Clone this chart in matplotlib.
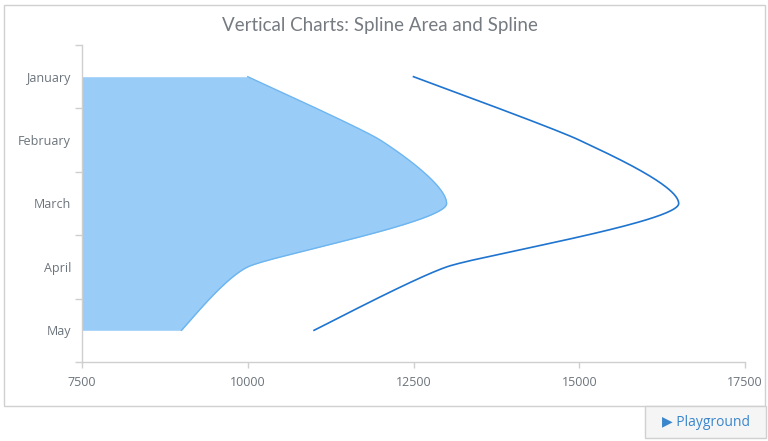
import numpy as np
import matplotlib.pyplot as plt
from matplotlib.patches import Rectangle

# data
months = ['January', 'February', 'March', 'April', 'May']
area_values = [10000, 12000, 13000, 10000, 9000]
line_values = [12500, 15000, 16500, 13000, 11000]
x_ticks = [7500, 10000, 12500, 15000, 17500]

W, H = 768, 441
fig = plt.figure(figsize=(W / 100, H / 100), dpi=100)

# plot area in pixels
left, right, top, bottom = 82, 745, 45, 362
ax = fig.add_axes([left / W, 1 - bottom / H, (right - left) / W, (bottom - top) / H])
xmin, xmax = 7500, 17500
ax.set_xlim(xmin, xmax)
ax.set_ylim(4.5, -0.5)

px_per_val = (right - left) / (xmax - xmin)
px_per_band = (bottom - top) / 5


def spline(values, arm=11.0, n=60):
    # bezier spline through the points in pixel space, short control arms
    P = np.column_stack([(np.array(values) - xmin) * px_per_val,
                         np.arange(len(values)) * px_per_band])
    m = len(P)
    T = []
    for i in range(m):
        i1 = max(i - 1, 0)
        i2 = min(i + 1, m - 1)
        t = (P[i2] - P[i1]) / arm
        if 0 < i < m - 1 and (values[i] - values[i1]) * (values[i2] - values[i]) < 0:
            t[0] = 0.0
            t[1] *= 1.6
        T.append(t)
    pts = []
    s = np.linspace(0, 1, n)[:, None]
    for i in range(m - 1):
        p0, p3 = P[i], P[i + 1]
        p1, p2 = p0 + T[i], p3 - T[i + 1]
        seg = ((1 - s) ** 3) * p0 + 3 * ((1 - s) ** 2) * s * p1 + 3 * (1 - s) * s ** 2 * p2 + s ** 3 * p3
        pts.append(seg if i == 0 else seg[1:])
    pts = np.vstack(pts)
    return xmin + pts[:, 0] / px_per_val, pts[:, 1] / px_per_band


ax_x, ax_y = spline(area_values)
ax.fill_betweenx(ax_y, xmin, ax_x, color='#99CDF7', lw=0, zorder=2)
ax.plot(ax_x, ax_y, color='#6DB5F0', lw=1.0, zorder=3)

ln_x, ln_y = spline(line_values)
ax.plot(ln_x, ln_y, color='#1E74CF', lw=1.2, zorder=3)

axis_col = '#CFCFCF'
label_col = '#6B737B'
for s in ['top', 'right']:
    ax.spines[s].set_visible(False)
for s in ['left', 'bottom']:
    ax.spines[s].set_color(axis_col)
    ax.spines[s].set_linewidth(1)

ax.set_yticks(range(len(months)), labels=months)
ax.set_yticks(np.arange(-0.5, len(months)), minor=True)
ax.tick_params(axis='y', which='major', length=0, pad=8, labelsize=9, labelcolor=label_col)
ax.tick_params(axis='y', which='minor', length=5, color=axis_col, width=1)
ax.set_xticks(x_ticks, labels=[str(v) for v in x_ticks])
ax.tick_params(axis='x', length=4, color=axis_col, width=1, pad=6, labelsize=9, labelcolor=label_col)
for lab in ax.get_xticklabels() + ax.get_yticklabels():
    lab.set_family('Open Sans')

fig.text(380 / W, 1 - 25 / H, 'Vertical Charts: Spline Area and Spline', ha='center', va='center',
         fontsize=13.5, color='#757B81', family='Lato')

# outer frame and the button below it
fig.patches.append(Rectangle((4 / W, 1 - 406 / H), 761 / W, 401 / H, transform=fig.transFigure,
                             fill=False, edgecolor='#D0D0D0', lw=1))
fig.patches.append(Rectangle((645 / W, 1 - 438 / H), 121 / W, 32 / H, transform=fig.transFigure,
                             facecolor='#F5F5F5', edgecolor='#D0D0D0', lw=1))
fig.text(706 / W, 1 - 423 / H, '▶ Playground', ha='center', va='center', fontsize=10,
         color='#3A86CC', family=['Open Sans', 'DejaVu Sans'])

fig.savefig('out.png', dpi=100)
